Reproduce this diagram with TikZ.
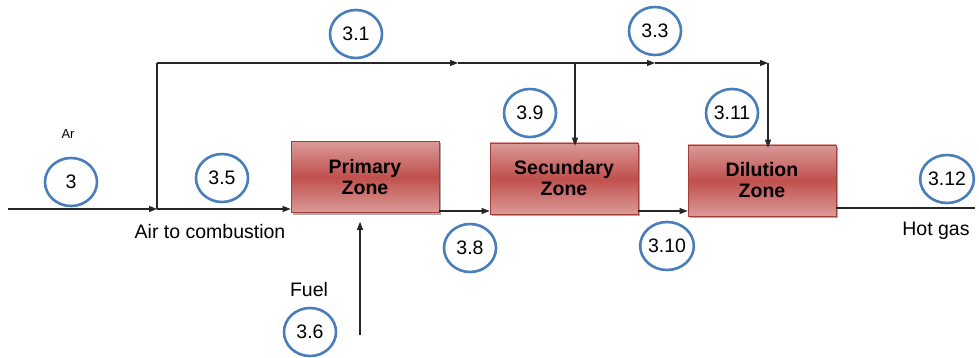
\documentclass[tikz,border=0pt]{standalone}
\usepackage{fontspec}
\setmainfont{Liberation Sans}
\usetikzlibrary{arrows.meta,shadows,shapes.geometric}
\definecolor{zred}{HTML}{C0504D}
\definecolor{zlight}{HTML}{DA9A98}
\definecolor{zedge}{HTML}{A33E3B}
\definecolor{cblue}{HTML}{4A7EBB}
\tikzset{
  zone/.style={draw=zedge, line width=0.6pt, shading=axis, top color=zlight, bottom color=zlight, middle color=zred,
    minimum width=148pt, minimum height=71pt, inner sep=0pt, align=center,
    font=\fontsize{19.5}{21}\selectfont\bfseries,
    drop shadow={shadow xshift=2pt, shadow yshift=-2pt, fill=black!55, opacity=0.6}},
  num/.style={draw=cblue, line width=2.6pt, ellipse, minimum width=52pt, minimum height=48pt, inner sep=0pt,
    font=\fontsize{19.5}{20}\selectfont},
  lbl/.style={font=\fontsize{19.5}{20}\selectfont, inner sep=0pt},
  flow/.style={line width=1.1pt, draw=black!85},
  arr/.style={flow, -{Triangle[length=8pt,width=6pt]}},
}
\begin{document}
\begin{tikzpicture}[x=1pt,y=-1pt]
\useasboundingbox (0,0) rectangle (979,358);
% zones
\node[zone] (pz) at (365,177) {Primary\\Zone};
\node[zone] (sz) at (564,178.5) {Secundary\\Zone};
\node[zone] (dz) at (762,180.5) {Dilution\\Zone};
% coordinates
\coordinate (in) at (8,209);
\coordinate (split) at (157,209);
\coordinate (corner) at (157,63);
\coordinate (m1) at (458,63);
\coordinate (b1) at (575,63);
\coordinate (m2) at (655,63);
\coordinate (b2) at (768,63);
\coordinate (fuel) at (360,335);
\coordinate (out) at (975,208);
% flows
\draw[arr] (in) -- (split);
\draw[arr] (split) -- (split -| pz.west);
\draw[flow] (split) -- (corner);
\draw[arr] (corner) -- (m1);
\draw[arr] (m1) -- (m2);
\draw[arr] (m2) -- (b2);
\draw[arr] (b1) -- ([yshift=-3pt]b1 |- sz.north);
\draw[arr] (b2) -- ([yshift=-3pt]b2 |- dz.north);
\draw[arr] (pz.east |- 0,211) -- (sz.west |- 0,211);
\draw[arr] (sz.east |- 0,211) -- (dz.west |- 0,211);
\draw[flow] (dz.east |- 0,208) -- (out);
\draw[arr] (fuel) -- ([yshift=-9pt]fuel |- pz.south);
% numbers
\node[num] (n3) at (71,182) {3};
\node[num] (n35) at (222,178) {3.5};
\node[num] (n31) at (356,34) {3.1};
\node[num] (n33) at (655,31) {3.3};
\node[num] (n39) at (530,113) {3.9};
\node[num] (n311) at (732,113) {3.11};
\node[num] (n312) at (947,179) {3.12};
\node[num] (n310) at (667,246) {3.10};
\node[num] (n38) at (470,248) {3.8};
\node[num] (n36) at (310,332) {3.6};
% labels
\node[lbl, font=\fontsize{13}{14}\selectfont] (ar) at (68,134) {Ar};
\node[lbl] (atc) at (210,232) {Air to combustion};
\node[lbl] (hg) at (936,231) {Hot gas};
\node[lbl] (fl) at (309,290) {Fuel};
\end{tikzpicture}
\end{document}
